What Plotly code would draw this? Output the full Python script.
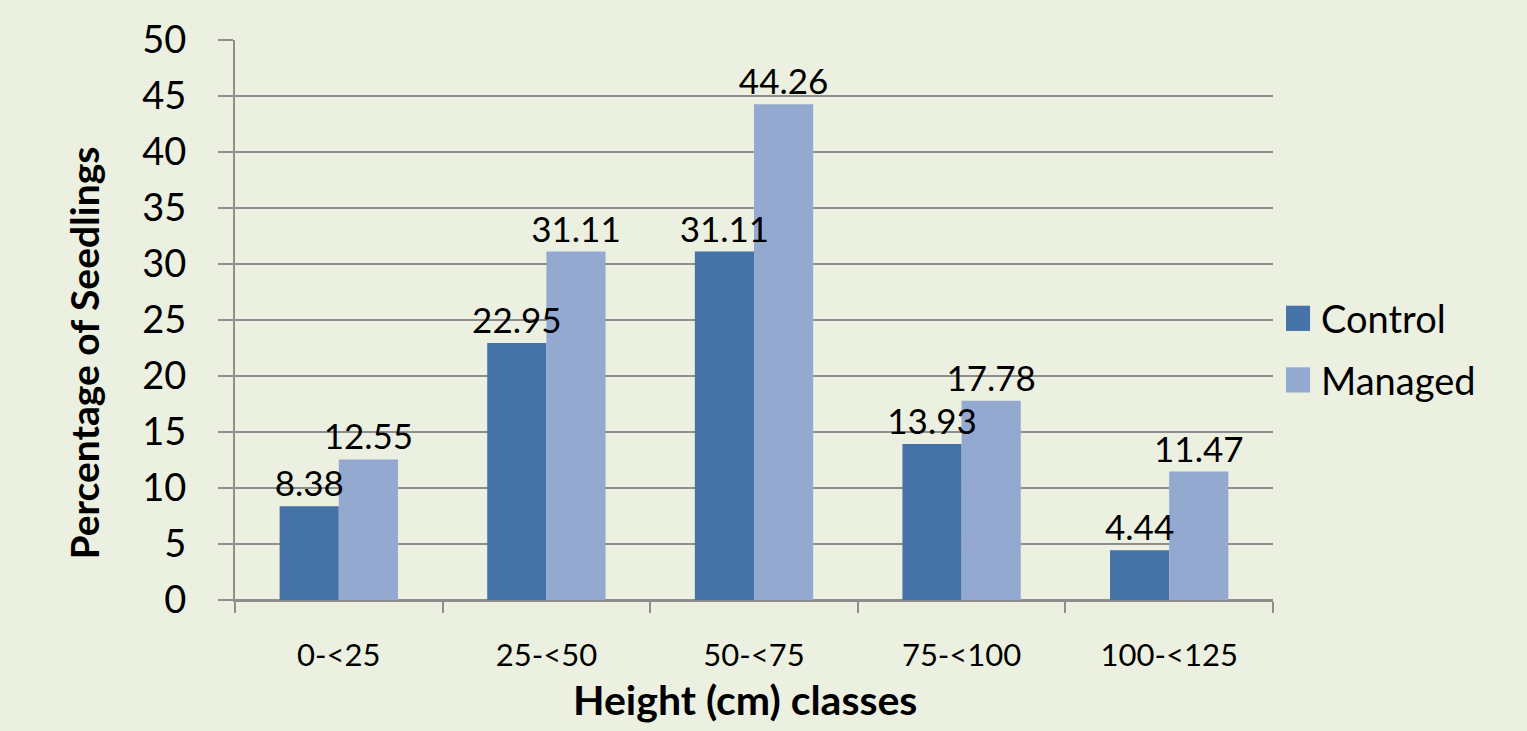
import plotly.graph_objects as go

categories = ["0-<25", "25-<50", "50-<75", "75-<100", "100-<125"]
control = [8.38, 22.95, 31.11, 13.93, 4.44]
managed = [12.55, 31.11, 44.26, 17.78, 11.47]
control_labels = ["8.38", "22.95", "31.11", "13.93", "4.44"]
managed_labels = ["12.55", "31.11", "44.26", "17.78", "11.47"]
series_names = ["Control", "Managed"]
series_colors = ["#4572A7", "#93A9D0"]

BG = "#ECF0E0"
GRID = "#8E8E8E"
FONT = "Lato, Carlito, Calibri, sans-serif"

fig = go.Figure()
# coloured bars
for name, vals, color in zip(series_names, [control, managed], series_colors):
    fig.add_trace(go.Bar(name=name, x=categories, y=vals, offsetgroup=name,
                         marker=dict(color=color, line=dict(width=0)),
                         showlegend=False))
# transparent copies carrying the value labels, drawn on top of all bars
for name, vals, labels in zip(series_names, [control, managed], [control_labels, managed_labels]):
    fig.add_trace(go.Bar(name=name + " labels", x=categories, y=vals, offsetgroup=name,
                         text=labels, textposition="outside", constraintext="none",
                         marker=dict(color="rgba(0,0,0,0)", line=dict(width=0)),
                         textfont=dict(size=35, color="black", family=FONT),
                         cliponaxis=False, showlegend=False, hoverinfo="skip"))

fig.update_layout(
    width=1527, height=731,
    margin=dict(l=235, r=254, t=40, b=131, autoexpand=False),
    paper_bgcolor=BG, plot_bgcolor=BG,
    barmode="group", bargap=0.43, bargroupgap=0,
    font=dict(family=FONT, color="black"),
    showlegend=False,
)
fig.update_xaxes(
    showline=True, linecolor=GRID, linewidth=2,
    ticks="outside", tickson="boundaries", ticklen=11, tickcolor=GRID, tickwidth=2,
    tickfont=dict(size=31, family=FONT), ticklabelstandoff=27,
    showgrid=False,
)
fig.update_yaxes(
    range=[0, 50], dtick=5, tick0=0,
    showline=True, linecolor=GRID, linewidth=2,
    ticks="outside", ticklen=15, tickcolor=GRID, tickwidth=2,
    tickfont=dict(size=38, family=FONT), ticklabelstandoff=24,
    showgrid=True, gridcolor=GRID, gridwidth=2,
    zeroline=True, zerolinecolor=GRID, zerolinewidth=2,
)
# axis titles
fig.add_annotation(text="<b>Height (cm) classes</b>", xref="paper", yref="paper",
                   x=0.491, y=-0.178, xanchor="center", yanchor="middle", showarrow=False,
                   font=dict(size=41, family=FONT, color="black"))
fig.add_annotation(text="<b>Percentage of Seedlings</b>", xref="paper", yref="paper",
                   x=-0.145, y=0.441, xanchor="center", yanchor="middle", showarrow=False,
                   textangle=-90, font=dict(size=39, family=FONT, color="black"))

# legend drawn with large square swatches
legend_y = [0.503, 0.393]
for name, color, ly in zip(series_names, series_colors, legend_y):
    fig.add_shape(type="rect", xref="paper", yref="paper",
                  x0=1.0125, x1=1.0357, y0=ly - 0.0225, y1=ly + 0.0225,
                  fillcolor=color, line=dict(width=0))
    fig.add_annotation(text=name, xref="paper", yref="paper", x=1.044, y=ly,
                       xanchor="left", yanchor="middle", showarrow=False,
                       font=dict(size=38, family=FONT, color="black"))

fig.write_html("out.html")
